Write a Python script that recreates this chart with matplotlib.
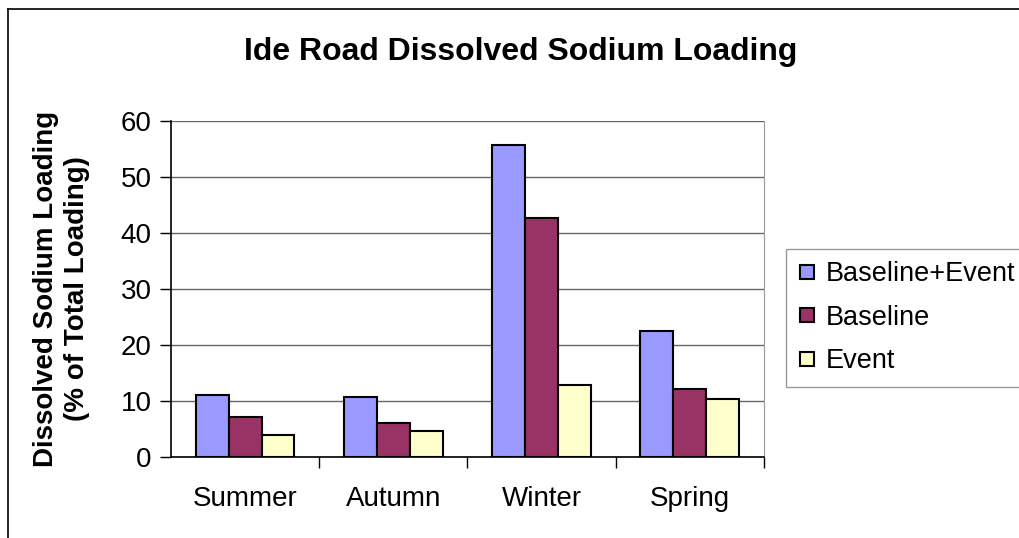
import matplotlib
matplotlib.use("Agg")
import matplotlib.pyplot as plt
import numpy as np
from matplotlib.lines import Line2D

plt.rcParams["font.family"] = ["Liberation Sans", "DejaVu Sans"]

seasons = ["Summer", "Autumn", "Winter", "Spring"]
series_names = ["Baseline+Event", "Baseline", "Event"]
baseline_event = [11.0, 10.7, 55.8, 22.5]
baseline = [7.1, 6.1, 42.6, 12.1]
event = [3.9, 4.6, 12.8, 10.3]
colors = ["#9999FF", "#993366", "#FFFFCC"]

fig = plt.figure(figsize=(10.2, 5.38), dpi=100)
ax = fig.add_axes([0.1676, 0.1506, 0.5814, 0.6244])

x = np.arange(len(seasons))
w = 1 / 4.5
for i, (vals, name, c) in enumerate(zip([baseline_event, baseline, event], series_names, colors)):
    ax.bar(x + (i - 1) * w, vals, width=w, color=c, edgecolor="black", linewidth=1.5,
           label=name, zorder=3)

ax.set_xlim(-0.5, 3.5)
ax.set_ylim(0, 60)
ax.set_yticks(range(0, 61, 10))
ax.tick_params(axis="y", direction="out", length=8, width=1, labelsize=20, pad=6)
ax.set_xticks(x)
ax.set_xticklabels(seasons, fontsize=20)
ax.tick_params(axis="x", length=0, pad=21)
ax.set_xticks(np.arange(0.5, 3.6, 1), minor=True)
ax.tick_params(axis="x", which="minor", direction="out", length=8, width=1)
ax.yaxis.grid(True, color="#666666", linewidth=1, zorder=0)
ax.set_axisbelow(True)
ax.spines["top"].set_visible(False)
ax.spines["right"].set_color("#999999")
ax.spines["left"].set_linewidth(1.2)
ax.spines["bottom"].set_linewidth(1.2)

ax.set_ylabel("Dissolved Sodium Loading\n(% of Total Loading)", fontsize=20,
              fontweight="bold", linespacing=1.25)
ax.yaxis.set_label_coords(-0.137, 0.5)

fig.text(0.51, 0.903, "Ide Road Dissolved Sodium Loading", fontsize=23,
         fontweight="bold", ha="center", va="center")

handles = [Line2D([], [], marker="s", linestyle="", markersize=10, markerfacecolor=c,
                  markeredgecolor="black", markeredgewidth=1.5) for c in colors]
leg = fig.legend(handles, series_names, loc="upper left", bbox_to_anchor=(0.771, 0.537),
                 fontsize=19.5, frameon=True, fancybox=False, edgecolor="#808080",
                 handlelength=0.6, handletextpad=0.4, labelspacing=0.65,
                 borderpad=0.45, borderaxespad=0)
leg.get_frame().set_linewidth(1)

# chart area border (left and top edges visible)
fig.add_artist(Line2D([8 / 1020, 8 / 1020], [0, 1 - 9 / 538], color="black", linewidth=1.2,
                      transform=fig.transFigure))
fig.add_artist(Line2D([8 / 1020, 1], [1 - 9 / 538, 1 - 9 / 538], color="black", linewidth=1.2,
                      transform=fig.transFigure))

fig.savefig("out.png", dpi=100)
